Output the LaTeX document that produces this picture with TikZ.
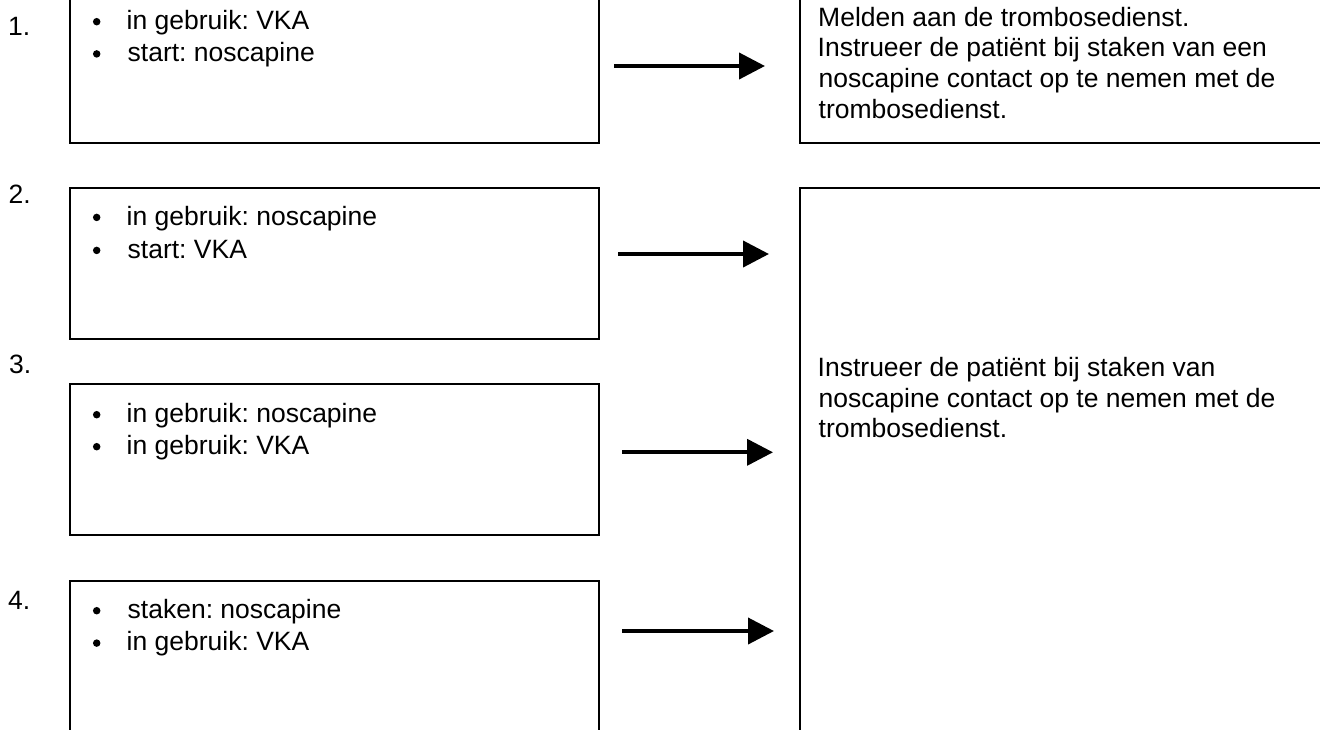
\documentclass[tikz,border=0pt]{standalone}
\usepackage{fontspec}
\setmainfont{Liberation Sans}
\usetikzlibrary{arrows.meta}
\frenchspacing
\begin{document}
\begin{tikzpicture}[x=1pt,y=-1pt,
  boxst/.style={draw=black, line width=2pt, rectangle, outer sep=0pt, inner sep=0pt, anchor=north west},
  txt/.style={anchor=base west, inner sep=0pt, font=\fontsize{26.5}{32}\selectfont\frenchspacing},
  bul/.style={circle, fill=black, draw=none, inner sep=0pt, minimum size=7.5pt},
  arr/.style={line width=4pt, -{Triangle[length=26pt,width=26pt]}}]
\useasboundingbox (0,0) rectangle (1320,729);
\clip (0,0) rectangle (1320,729);
% left boxes
\node[boxst, minimum width=529.5pt, minimum height=163pt] (box1) at (69.5,-20) {};
\node[boxst, minimum width=529.5pt, minimum height=151.3pt] (box2) at (69.5,187.7) {};
\node[boxst, minimum width=529.5pt, minimum height=150.7pt] (box3) at (69.5,384.3) {};
\node[boxst, minimum width=529.5pt, minimum height=179pt] (box4) at (69.5,581) {};
% right boxes
\node[boxst, minimum width=540.5pt, minimum height=163pt] (res1) at (799.5,-20) {};
\node[boxst, minimum width=540.5pt, minimum height=572.3pt] (res2) at (799.5,187.7) {};
% numbers
\node[txt] (n1) at (8,35) {1.};
\node[txt] (n2) at (8.5,203) {2.};
\node[txt] (n3) at (9,373) {3.};
\node[txt] (n4) at (8,609.5) {4.};
% box 1
\node[bul] (b1a) at (96.7,21.7) {};
\node[txt] (t1a) at (126.5,29.3) {in gebruik: VKA};
\node[bul] (b1b) at (96.7,53.9) {};
\node[txt] (t1b) at (127.5,61.5) {start: noscapine};
% box 2
\node[bul] (b2a) at (96.7,217.4) {};
\node[txt] (t2a) at (126.5,225) {in gebruik: noscapine};
\node[bul] (b2b) at (96.7,250.4) {};
\node[txt] (t2b) at (127.5,258) {start: VKA};
% box 3
\node[bul] (b3a) at (96.7,414.7) {};
\node[txt] (t3a) at (126.5,422.3) {in gebruik: noscapine};
\node[bul] (b3b) at (96.7,446.7) {};
\node[txt] (t3b) at (126.5,454.3) {in gebruik: VKA};
% box 4
\node[bul] (b4a) at (96.7,610.7) {};
\node[txt] (t4a) at (127.5,618.3) {staken: noscapine};
\node[bul] (b4b) at (96.7,643.1) {};
\node[txt] (t4b) at (126.5,650.7) {in gebruik: VKA};
% right texts
\node[txt] (r1a) at (818,26) {Melden aan de trombosedienst.};
\node[txt] (r1b) at (817.5,56.8) {Instrueer de patiënt bij staken van een};
\node[txt] (r1c) at (818.5,87.5) {noscapine contact op te nemen met de};
\node[txt] (r1d) at (818.5,118.3) {trombosedienst.};
\node[txt] (r2a) at (817.5,376.7) {Instrueer de patiënt bij staken van};
\node[txt] (r2b) at (818.5,407) {noscapine contact op te nemen met de};
\node[txt] (r2c) at (818.5,437.3) {trombosedienst.};
% arrows
\coordinate (a1s) at (614,66);  \coordinate (a1e) at (765,66);
\coordinate (a2s) at (618,254); \coordinate (a2e) at (769,254);
\coordinate (a3s) at (622,452.3); \coordinate (a3e) at (773,452.3);
\coordinate (a4s) at (622,631); \coordinate (a4e) at (774,631);
\draw[arr] (a1s) -- (a1e);
\draw[arr] (a2s) -- (a2e);
\draw[arr] (a3s) -- (a3e);
\draw[arr] (a4s) -- (a4e);
\end{tikzpicture}
\end{document}
